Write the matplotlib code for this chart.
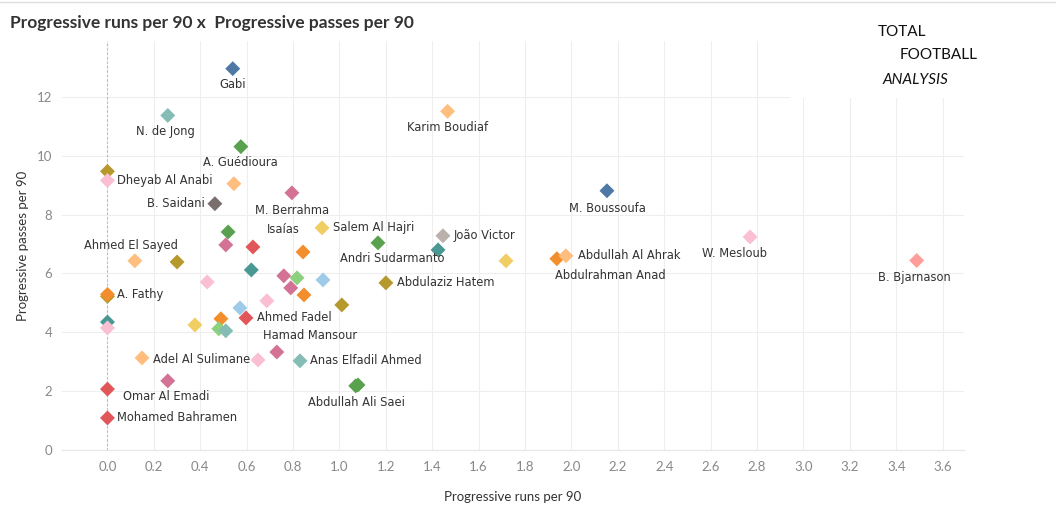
import matplotlib
matplotlib.use("Agg")
import matplotlib.pyplot as plt
from matplotlib.patches import Rectangle
from matplotlib.lines import Line2D

# data
players = ["Gabi", "N. de Jong", "Karim Boudiaf", "A. Guédioura", "", "Dheyab Al Anabi", "",
           "M. Berrahma", "B. Saidani", "M. Boussoufa", "Salem Al Hajri", "", "", "Isaías", "",
           "Andri Sudarmanto", "João Victor", "", "", "Abdulrahman Anad", "Abdullah Al Ahrak",
           "W. Mesloub", "B. Bjarnason", "Ahmed El Sayed", "", "", "A. Fathy", "", "", "", "",
           "", "", "", "", "Abdulaziz Hatem", "", "", "Ahmed Fadel", "", "", "", "", "", "",
           "Hamad Mansour", "", "Adel Al Sulimane", "Anas Elfadil Ahmed", "Abdullah Ali Saei", "",
           "Omar Al Emadi", "", "Mohamed Bahramen"]
runs = [0.54, 0.26, 1.466, 0.575, 0.0, 0.0, 0.545,
        0.795, 0.463, 2.153, 0.925, 0.52, 0.51, 0.627, 0.843,
        1.166, 1.446, 1.425, 1.718, 1.937, 1.976,
        2.77, 3.488, 0.118, 0.30, 0.0, 0.0, 0.43, 0.62, 0.76, 0.817,
        0.79, 0.929, 0.847, 1.01, 1.20, 0.687, 0.571, 0.597, 0.489, 0.377, 0.48, 0.51, 0.0, 0.0,
        0.73, 0.649, 0.149, 0.83, 1.07, 1.08,
        0.26, 0.0, 0.0]
passes = [12.96, 11.37, 11.51, 10.31, 9.47, 9.16, 9.05,
          8.74, 8.37, 8.81, 7.55, 7.41, 6.97, 6.90, 6.73,
          7.04, 7.28, 6.80, 6.43, 6.50, 6.60,
          7.24, 6.44, 6.43, 6.39, 5.22, 5.29, 5.71, 6.12, 5.92, 5.85,
          5.51, 5.78, 5.27, 4.93, 5.68, 5.07, 4.83, 4.49, 4.46, 4.25, 4.12, 4.05, 4.35, 4.15,
          3.33, 3.06, 3.13, 3.03, 2.18, 2.21,
          2.35, 2.07, 1.09]
colors = ["#4e79a7", "#86bcb6", "#ffbe7d", "#59a14f", "#b6992d", "#fabfd2", "#ffbe7d",
          "#d37295", "#79706e", "#4e79a7", "#f1ce63", "#59a14f", "#d37295", "#e15759", "#f28e2b",
          "#59a14f", "#bab0ac", "#499894", "#f1ce63", "#f28e2b", "#ffbe7d",
          "#fabfd2", "#ff9d9a", "#ffbe7d", "#b6992d", "#b6992d", "#f28e2b", "#fabfd2", "#499894",
          "#d37295", "#8cd17d",
          "#d37295", "#a0cbe8", "#f28e2b", "#b6992d", "#b6992d", "#fabfd2", "#a0cbe8", "#e15759",
          "#f28e2b", "#f1ce63", "#8cd17d", "#86bcb6", "#499894", "#fabfd2",
          "#d37295", "#fabfd2", "#ffbe7d", "#86bcb6", "#59a14f", "#59a14f",
          "#d37295", "#e15759", "#e15759"]

x_ticks = [i / 5 for i in range(19)]
y_ticks = [0, 2, 4, 6, 8, 10, 12]

# label placement, offsets in pixels from the marker
label_pos = {
    "Gabi": (0, -16, "center"), "N. de Jong": (-2, -16, "center"),
    "Karim Boudiaf": (0, -16, "center"), "A. Guédioura": (0, -16, "center"),
    "Dheyab Al Anabi": (10, 0, "left"), "B. Saidani": (-10, 0, "right"),
    "M. Berrahma": (0, -18, "center"), "Salem Al Hajri": (11, 0, "left"),
    "Isaías": (30, 17, "center"), "Andri Sudarmanto": (14, -16, "center"),
    "João Victor": (11, 0, "left"), "Abdullah Al Ahrak": (12, 0, "left"),
    "Abdulrahman Anad": (53, -17, "center"), "M. Boussoufa": (0, -18, "center"),
    "W. Mesloub": (-16, -17, "center"), "B. Bjarnason": (-2, -17, "center"),
    "Ahmed El Sayed": (-4, 15, "center"), "A. Fathy": (10, 0, "left"),
    "Abdulaziz Hatem": (11, 0, "left"), "Ahmed Fadel": (11, 0, "left"),
    "Hamad Mansour": (33, 17, "center"), "Adel Al Sulimane": (11, -2, "left"),
    "Anas Elfadil Ahmed": (10, 0, "left"), "Abdullah Ali Saei": (1, -17, "center"),
    "Omar Al Emadi": (-2, -16, "center"), "Mohamed Bahramen": (10, 0, "left"),
}

narrow = ["Lato", "DejaVu Sans"]
plt.rcParams["font.family"] = ["DejaVu Sans"]

fig = plt.figure(figsize=(10.56, 5.18), dpi=100)
ax = fig.add_axes([62 / 1056, 68 / 518, 902 / 1056, 409 / 518])

ax.scatter(runs, passes, c=colors, marker="D", s=58, linewidths=0, zorder=3)
ax.axvline(0, color="#bbbbbb", linestyle=(0, (2, 2)), linewidth=0.8, zorder=1)

for name, xv, yv in zip(players, runs, passes):
    if name in label_pos:
        dx, dy, ha = label_pos[name]
        ax.annotate(name, (xv, yv), xytext=(dx, dy), textcoords="offset pixels",
                    ha=ha, va="center", fontsize=8.3, color="#333333", zorder=4)

ax.set_xlim(-0.196, 3.692)
ax.set_ylim(0, 13.9)
ax.set_xticks(x_ticks)
ax.set_xticklabels([f"{t:.1f}" for t in x_ticks], family=narrow)
ax.set_yticks(y_ticks)
ax.set_yticklabels([str(t) for t in y_ticks], family=narrow)
ax.grid(True, color="#eeeeee", linewidth=0.8, zorder=0)
ax.set_axisbelow(True)
for side in ["top", "right", "left"]:
    ax.spines[side].set_visible(False)
ax.spines["bottom"].set_color("#e6e6e6")
ax.tick_params(length=0, labelsize=9.5, labelcolor="#888888", pad=8)
ax.tick_params(axis="y", pad=7)
ax.set_xlabel("Progressive runs per 90", fontsize=9.5, color="#333333", labelpad=13,
              family=narrow)
ax.set_ylabel("Progressive passes per 90", fontsize=9.5, color="#333333", labelpad=6,
              family=narrow)

# title
fig.text(10 / 1056, 1 - 23 / 518, "Progressive runs per 90 x  Progressive passes per 90",
         fontsize=12.5, fontweight="bold", color="#333333", va="center", family=narrow)
fig.add_artist(Line2D([0, 1], [1 - 2 / 518, 1 - 2 / 518], color="#dddddd", linewidth=1))

# logo area
fig.add_artist(Rectangle((790 / 1056, 1 - 98 / 518), 266 / 1056, 94 / 518,
                         facecolor="white", edgecolor="none", zorder=5))
fig.text(878 / 1056, 1 - 32 / 518, "TOTAL", fontsize=11, color="#111111", ha="left",
         va="center", zorder=6, family=narrow)
fig.text(900 / 1056, 1 - 55 / 518, "FOOTBALL", fontsize=11, color="#111111", ha="left",
         va="center", zorder=6, family=narrow)
fig.text(882 / 1056, 1 - 80 / 518, "ANALYSIS", fontsize=11, color="#111111", ha="left",
         va="center", zorder=6, family=narrow, style="italic")

fig.savefig("out.png", dpi=100)
